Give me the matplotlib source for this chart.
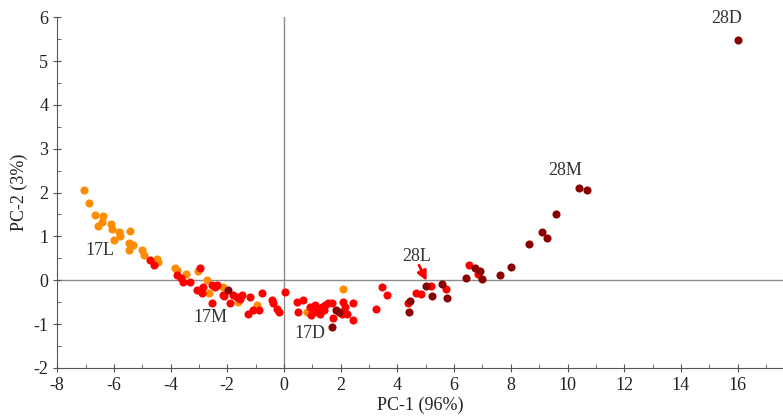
import matplotlib.pyplot as plt
from matplotlib.ticker import MultipleLocator

# puntos PCA (PC-1, PC-2)
orange_x = [-7.04, -6.89, -6.67, -6.40, -6.57, -6.42, -6.10, -6.07, -5.83, -5.80,
            -5.99, -5.43, -5.46, -5.33, -5.45, -5.00, -4.93, -4.48, -4.45, -3.86,
            -3.78, -3.02, -3.45, -2.72, -2.66, -2.16, -1.61, -0.94, 0.80, 2.09]
orange_y = [2.05, 1.76, 1.48, 1.46, 1.24, 1.33, 1.29, 1.18, 1.10, 1.00,
            0.91, 1.13, 0.84, 0.80, 0.68, 0.68, 0.57, 0.49, 0.42, 0.29,
            0.23, 0.21, 0.15, 0.00, -0.30, -0.15, -0.50, -0.57, -0.72, -0.19]

red_x = [-4.74, -4.60, -2.96, -3.78, -3.64, -3.55, -3.07, -2.84, -2.55, -2.37,
         -2.55, -2.11, -1.90, -1.67, -2.43, -2.14, -1.79, -1.55, -1.49, -1.20,
         -1.26, -1.08, -0.87, -0.79, -0.43, -0.38, -0.26, -0.17, 0.04, 0.45,
         0.68, 0.50, 0.97, 1.09, 1.21, 1.33, 1.44, 1.56, 1.68, 1.27,
         2.09, 2.15, 2.03, 2.21, 2.44, 2.44, 1.74, 3.26, 3.44, 3.64,
         4.38, 4.65, 4.85, 5.20, 5.70, 6.53, 6.84, 1.00, 1.15, 1.40,
         0.90, -3.30, -2.90]
red_y = [0.47, 0.34, 0.27, 0.11, 0.06, -0.04, -0.23, -0.15, -0.11, -0.11,
         -0.53, -0.37, -0.53, -0.38, -0.15, -0.34, -0.34, -0.42, -0.34, -0.38,
         -0.76, -0.68, -0.68, -0.30, -0.46, -0.53, -0.65, -0.72, -0.27, -0.50,
         -0.46, -0.72, -0.80, -0.57, -0.65, -0.61, -0.57, -0.53, -0.52, -0.76,
         -0.50, -0.61, -0.76, -0.76, -0.53, -0.90, -0.87, -0.65, -0.15, -0.34,
         -0.53, -0.28, -0.32, -0.14, -0.21, 0.34, 0.15, -0.65, -0.72, -0.68,
         -0.60, -0.05, -0.30]

dark_x = [-1.96, 1.85, 1.95, 1.68, 4.46, 4.40, 5.02, 5.21, 5.59, 5.75,
          6.43, 6.73, 6.90, 6.98, 7.61, 7.99, 8.64, 9.10, 9.28, 9.60,
          10.40, 10.69, 16.00]
dark_y = [-0.23, -0.68, -0.72, -1.07, -0.47, -0.72, -0.14, -0.37, -0.08, -0.40,
          0.06, 0.27, 0.21, 0.02, 0.11, 0.30, 0.82, 1.09, 0.96, 1.51,
          2.10, 2.05, 5.48]

# etiquetas de grupos
group_names = ['17L', '17M', '17D', '28L', '28M', '28D']
group_x = [-6.48, -2.6, 0.92, 4.68, 9.93, 15.6]
group_y = [0.68, -0.85, -1.21, 0.55, 2.51, 5.98]


def main():
    plt.rcParams['font.family'] = ['Liberation Serif', 'DejaVu Serif']
    plt.rcParams['axes.unicode_minus'] = False
    fig = plt.figure(figsize=(7.83, 4.2), dpi=100)
    ax = fig.add_axes([0.073, 0.124, 0.927, 0.835])

    ax.axhline(0, color='#8c8c8c', lw=1, zorder=1)
    ax.axvline(0, color='#8c8c8c', lw=1, zorder=1)

    ms = 34
    ax.scatter(orange_x, orange_y, s=ms, color='#ff8c00', lw=0, zorder=3)
    ax.scatter(red_x, red_y, s=ms, color='#ff0000', lw=0, zorder=4)
    ax.scatter(dark_x, dark_y, s=ms, color='#8b0000', lw=0, zorder=5)

    for name, gx, gy in zip(group_names, group_x, group_y):
        ax.text(gx, gy, name, fontsize=13, color='#333333', ha='center', va='center')

    # flecha de 28L
    ax.annotate('', xy=(5.07, -0.07), xytext=(4.72, 0.40),
                arrowprops=dict(arrowstyle='-|>', color='#ff0000', lw=2,
                                mutation_scale=14))

    ax.set_xlim(-8, 17.6)
    ax.set_ylim(-2, 6)
    ax.xaxis.set_major_locator(MultipleLocator(2))
    ax.xaxis.set_minor_locator(MultipleLocator(1))
    ax.yaxis.set_major_locator(MultipleLocator(1))
    ax.yaxis.set_minor_locator(MultipleLocator(0.5))
    ax.tick_params(which='major', direction='inout', length=6, color='#555555',
                   labelsize=13, labelcolor='#222222')
    ax.tick_params(which='minor', direction='in', length=3, color='#555555')

    for side in ['top', 'right']:
        ax.spines[side].set_visible(False)
    for side in ['left', 'bottom']:
        ax.spines[side].set_color('#555555')

    ax.set_xlabel('PC-1 (96%)', fontsize=13, color='#222222', labelpad=2)
    ax.set_ylabel('PC-2 (3%)', fontsize=13, color='#222222', labelpad=4)

    fig.savefig('out.png', dpi=100)


if __name__ == "__main__":
    main()
